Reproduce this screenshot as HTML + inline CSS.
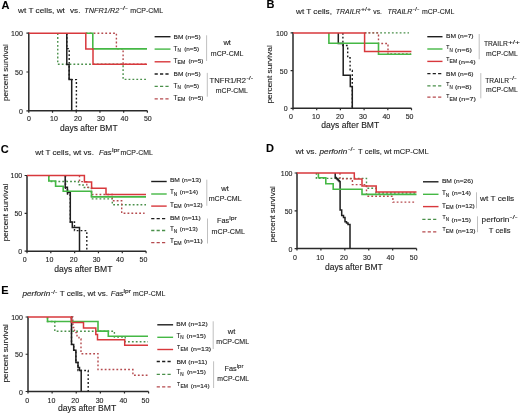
<!DOCTYPE html>
<html><head><meta charset="utf-8"><title>Survival curves</title>
<style>
html,body{margin:0;padding:0;background:#fff;width:520px;height:414px;overflow:hidden;}
svg{display:block;font-family:"Liberation Sans", sans-serif;will-change:transform;}
text{stroke:#2a2a2a;stroke-width:0.12px;}
</style></head><body>
<svg width="520" height="414" viewBox="0 0 520 414" font-family='"Liberation Sans", sans-serif' fill="#1a1a1a">
<rect width="520" height="414" fill="#fff"/>
<text x="1.6" y="8.8" font-size="11" font-weight="bold" fill="#000" >A</text>
<text x="18.1" y="12.7" font-size="7.9" textLength="46.8" lengthAdjust="spacingAndGlyphs" >wt T cells, wt</text>
<text x="70" y="12.7" font-size="7.9" textLength="10.4" lengthAdjust="spacingAndGlyphs" >vs.</text>
<text x="84.3" y="12.7" font-size="7.9" textLength="35.0" lengthAdjust="spacingAndGlyphs" font-style="italic" >TNFR1/R2</text>
<text x="119.9" y="9.8" font-size="6.0" textLength="8.0" lengthAdjust="spacingAndGlyphs" >-/-</text>
<text x="130.3" y="12.7" font-size="7.9" textLength="32.8" lengthAdjust="spacingAndGlyphs" >mCP-CML</text>
<path d="M28.8,32.6 V110.8 H147.4" stroke="#2a2a2a" stroke-width="1.5" fill="none"/>
<path d="M26.400000000000002,33.2 H28.8 M26.400000000000002,72.0 H28.8 M26.400000000000002,110.8 H28.8 M28.8,110.8 V112.8 M52.52,110.8 V112.8 M76.24000000000001,110.8 V112.8 M99.96,110.8 V112.8 M123.68,110.8 V112.8 M147.4,110.8 V112.8 " stroke="#2a2a2a" stroke-width="1.2" fill="none"/>
<text x="22.8" y="36.2" font-size="7" text-anchor="end" >100</text>
<text x="22.8" y="75.0" font-size="7" text-anchor="end" >50</text>
<text x="22.8" y="113.8" font-size="7" text-anchor="end" >0</text>
<text x="28.9" y="120.8" font-size="7" text-anchor="middle" >0</text>
<text x="54" y="120.8" font-size="7" text-anchor="middle" >10</text>
<text x="78" y="120.8" font-size="7" text-anchor="middle" >20</text>
<text x="101" y="120.8" font-size="7" text-anchor="middle" >30</text>
<text x="124.5" y="120.8" font-size="7" text-anchor="middle" >40</text>
<text x="147.8" y="120.8" font-size="7" text-anchor="middle" >50</text>
<text transform="translate(8.3,72.6) rotate(-90)" text-anchor="middle" font-size="7.9" textLength="56.8" lengthAdjust="spacingAndGlyphs">percent survival</text>
<text x="60.1" y="130.6" font-size="8.3" textLength="57.5" lengthAdjust="spacingAndGlyphs" >days after BMT</text>
<path d="M66.8,33.2 H66.8 V48.6 H69.2 V79.6 H76.4 V110.8" stroke="#1e1e1e" stroke-width="1.4" fill="none" stroke-dasharray="1.8 2.1"/>
<path d="M57.75,33.2 H57.75 V64.3 H123.1 V79.4 H146" stroke="#4a904a" stroke-width="1.4" fill="none" stroke-dasharray="1.8 2.1"/>
<path d="M85.8,33.2 H116.4 V48.7 H123.1 V64.2 H146" stroke="#b54a4e" stroke-width="1.4" fill="none" stroke-dasharray="1.8 2.1"/>
<path d="M66.8,33.2 H66.8 V64.4 H69.1 V79.6 H71.7 V110.8" stroke="#1e1e1e" stroke-width="1.5" fill="none"/>
<path d="M85.8,33.2 H92.8 V48.9 H147" stroke="#45b845" stroke-width="1.6" fill="none"/>
<path d="M28.8,33.2 H85.8 V48.9 H93 V64.3 H147" stroke="#d8383c" stroke-width="1.5" fill="none"/>
<path d="M154.6,36.7 H170.5" stroke="#1e1e1e" stroke-width="1.4" fill="none"/>
<path d="M154.6,49.1 H170.5" stroke="#45b845" stroke-width="1.4" fill="none"/>
<path d="M154.6,61.8 H170.5" stroke="#d8383c" stroke-width="1.4" fill="none"/>
<path d="M154.6,74.0 H169.5" stroke="#1e1e1e" stroke-width="1.3" fill="none" stroke-dasharray="3.2 2.2"/>
<path d="M154.6,86.3 H169.5" stroke="#4a904a" stroke-width="1.3" fill="none" stroke-dasharray="3.2 2.2"/>
<path d="M154.6,98.8 H169.5" stroke="#b54a4e" stroke-width="1.3" fill="none" stroke-dasharray="3.2 2.2"/>
<text x="173.6" y="38.6" font-size="6.1" textLength="27.1" lengthAdjust="spacingAndGlyphs" >BM (n=5)</text>
<text x="173.6" y="50.5" font-size="6.4" >T</text>
<text x="177.5" y="52.1" font-size="4.9" textLength="3.4" lengthAdjust="spacingAndGlyphs" >N</text>
<text x="184.2" y="50.5" font-size="6.1" textLength="15.0" lengthAdjust="spacingAndGlyphs" >(n=5)</text>
<text x="173.6" y="62.8" font-size="6.4" >T</text>
<text x="177.5" y="64.4" font-size="4.9" textLength="7.8" lengthAdjust="spacingAndGlyphs" >EM</text>
<text x="188.4" y="62.8" font-size="6.1" textLength="15.0" lengthAdjust="spacingAndGlyphs" >(n=5)</text>
<text x="173.6" y="76.4" font-size="6.1" textLength="27.1" lengthAdjust="spacingAndGlyphs" >BM (n=5)</text>
<text x="173.6" y="87.8" font-size="6.4" >T</text>
<text x="177.5" y="89.4" font-size="4.9" textLength="3.4" lengthAdjust="spacingAndGlyphs" >N</text>
<text x="184.2" y="87.8" font-size="6.1" textLength="15.0" lengthAdjust="spacingAndGlyphs" >(n=5)</text>
<text x="173.6" y="99.7" font-size="6.4" >T</text>
<text x="177.5" y="101.3" font-size="4.9" textLength="7.8" lengthAdjust="spacingAndGlyphs" >EM</text>
<text x="188.4" y="99.7" font-size="6.1" textLength="15.0" lengthAdjust="spacingAndGlyphs" >(n=5)</text>
<path d="M206.6,35.3 V61 M207.3,72.9 V96.7" stroke="#b0b0b0" stroke-width="0.8" fill="none"/>
<text x="227.2" y="45.4" font-size="7.6" text-anchor="middle" >wt</text>
<text x="210.8" y="55.8" font-size="7.6" textLength="32.7" lengthAdjust="spacingAndGlyphs" >mCP-CML</text>
<text x="209.6" y="82.8" font-size="7.6" textLength="36.4" lengthAdjust="spacingAndGlyphs" >TNFR1/R2</text>
<text x="246.4" y="79.8" font-size="6.2" textLength="6.8" lengthAdjust="spacingAndGlyphs" >-/-</text>
<text x="215.7" y="92.7" font-size="7.6" textLength="32.1" lengthAdjust="spacingAndGlyphs" >mCP-CML</text>
<text x="266.6" y="8.2" font-size="11" font-weight="bold" fill="#000" >B</text>
<text x="296" y="14.2" font-size="7.9" textLength="35.9" lengthAdjust="spacingAndGlyphs" >wt T cells,</text>
<text x="335.8" y="14.2" font-size="7.9" textLength="24.8" lengthAdjust="spacingAndGlyphs" font-style="italic" >TRAILR</text>
<text x="360.9" y="11.3" font-size="6.0" textLength="10.1" lengthAdjust="spacingAndGlyphs" >+/+</text>
<text x="373.3" y="14.2" font-size="7.9" textLength="8.6" lengthAdjust="spacingAndGlyphs" >vs.</text>
<text x="387.4" y="14.2" font-size="7.9" textLength="24.9" lengthAdjust="spacingAndGlyphs" font-style="italic" >TRAILR</text>
<text x="412.5" y="11.3" font-size="6.0" textLength="6.8" lengthAdjust="spacingAndGlyphs" >-/-</text>
<text x="422.1" y="14.2" font-size="7.9" textLength="32.3" lengthAdjust="spacingAndGlyphs" >mCP-CML</text>
<path d="M293,32.3 V108.3 H411.5" stroke="#2a2a2a" stroke-width="1.5" fill="none"/>
<path d="M290.6,32.9 H293 M290.6,70.6 H293 M290.6,108.3 H293 M293.0,108.3 V110.3 M316.7,108.3 V110.3 M340.4,108.3 V110.3 M364.1,108.3 V110.3 M387.8,108.3 V110.3 M411.5,108.3 V110.3 " stroke="#2a2a2a" stroke-width="1.2" fill="none"/>
<text x="287.6" y="35.9" font-size="7" text-anchor="end" >100</text>
<text x="287.6" y="73.6" font-size="7" text-anchor="end" >50</text>
<text x="287.6" y="111.3" font-size="7" text-anchor="end" >0</text>
<text x="290.9" y="118.9" font-size="7" text-anchor="middle" >0</text>
<text x="316" y="118.9" font-size="7" text-anchor="middle" >10</text>
<text x="340" y="118.9" font-size="7" text-anchor="middle" >20</text>
<text x="363" y="118.9" font-size="7" text-anchor="middle" >30</text>
<text x="386.3" y="118.9" font-size="7" text-anchor="middle" >40</text>
<text x="409.6" y="118.9" font-size="7" text-anchor="middle" >50</text>
<text transform="translate(272.4,74.4) rotate(-90)" text-anchor="middle" font-size="7.9" textLength="58.3" lengthAdjust="spacingAndGlyphs">percent survival</text>
<text x="321.3" y="128.2" font-size="8.3" textLength="57.9" lengthAdjust="spacingAndGlyphs" >days after BMT</text>
<path d="M342.9,32.9 H342.9 V45.5 H347.7 V57.8 H350.1 V70.5 H352.3 V108.3" stroke="#1e1e1e" stroke-width="1.4" fill="none" stroke-dasharray="1.8 2.1"/>
<path d="M364.6,32.9 H409" stroke="#4a904a" stroke-width="1.4" fill="none" stroke-dasharray="1.8 2.1"/>
<path d="M364.6,32.9 H378.5 V43.5 H388 V54 H411" stroke="#b54a4e" stroke-width="1.4" fill="none" stroke-dasharray="1.8 2.1"/>
<path d="M338.3,32.9 H338.3 V43.5 H343.2 V75.2 H350.3 V86.4 H352.3 V108.3" stroke="#1e1e1e" stroke-width="1.5" fill="none"/>
<path d="M328.9,32.9 H328.9 V43.3 H378.5 V54.2 H411.4" stroke="#45b845" stroke-width="1.6" fill="none"/>
<path d="M293,32.9 H364.6 V51.5 H411.4" stroke="#d8383c" stroke-width="1.5" fill="none"/>
<path d="M427.3,36.7 H442.5" stroke="#1e1e1e" stroke-width="1.4" fill="none"/>
<path d="M427.3,49.0 H442.5" stroke="#45b845" stroke-width="1.4" fill="none"/>
<path d="M427.3,61.4 H442.5" stroke="#d8383c" stroke-width="1.4" fill="none"/>
<path d="M427.3,73.7 H441.3" stroke="#1e1e1e" stroke-width="1.3" fill="none" stroke-dasharray="3.2 2.2"/>
<path d="M427.3,85.9 H441.3" stroke="#4a904a" stroke-width="1.3" fill="none" stroke-dasharray="3.2 2.2"/>
<path d="M427.3,97.1 H441.3" stroke="#b54a4e" stroke-width="1.3" fill="none" stroke-dasharray="3.2 2.2"/>
<text x="446" y="37.8" font-size="6.1" textLength="27.6" lengthAdjust="spacingAndGlyphs" >BM (n=7)</text>
<text x="446.3" y="49.4" font-size="5.1" >T</text>
<text x="449.6" y="51.9" font-size="4.9" textLength="3.3" lengthAdjust="spacingAndGlyphs" >N</text>
<text x="454.8" y="52.0" font-size="6.1" textLength="17.0" lengthAdjust="spacingAndGlyphs" >(n=6)</text>
<text x="446.3" y="60.9" font-size="5.1" >T</text>
<text x="449.6" y="63.4" font-size="4.9" textLength="7.6" lengthAdjust="spacingAndGlyphs" >EM</text>
<text x="458.6" y="63.5" font-size="6.1" textLength="17.0" lengthAdjust="spacingAndGlyphs" >(n=4)</text>
<text x="446" y="75.6" font-size="6.1" textLength="27.6" lengthAdjust="spacingAndGlyphs" >BM (n=6)</text>
<text x="446.3" y="86.3" font-size="5.1" >T</text>
<text x="449.6" y="88.8" font-size="4.9" textLength="3.3" lengthAdjust="spacingAndGlyphs" >N</text>
<text x="455.0" y="88.9" font-size="6.1" textLength="16.6" lengthAdjust="spacingAndGlyphs" >(n=8)</text>
<text x="446.3" y="98.2" font-size="5.1" >T</text>
<text x="449.6" y="100.7" font-size="4.9" textLength="7.6" lengthAdjust="spacingAndGlyphs" >EM</text>
<text x="458.8" y="100.8" font-size="6.1" textLength="17.0" lengthAdjust="spacingAndGlyphs" >(n=7)</text>
<path d="M479.2,34 V59.3 M480.8,73.1 V98.3" stroke="#b0b0b0" stroke-width="0.8" fill="none"/>
<text x="483.9" y="46.2" font-size="7.6" textLength="23.9" lengthAdjust="spacingAndGlyphs" >TRAILR</text>
<text x="507.9" y="43.6" font-size="6.2" textLength="12" lengthAdjust="spacingAndGlyphs" >+/+</text>
<text x="486" y="55.8" font-size="7.6" textLength="31.7" lengthAdjust="spacingAndGlyphs" >mCP-CML</text>
<text x="485.3" y="82.7" font-size="7.6" textLength="23.7" lengthAdjust="spacingAndGlyphs" >TRAILR</text>
<text x="509.3" y="79.8" font-size="6.2" textLength="7.4" lengthAdjust="spacingAndGlyphs" >-/-</text>
<text x="486" y="92.2" font-size="7.6" textLength="31.7" lengthAdjust="spacingAndGlyphs" >mCP-CML</text>
<text x="0.8" y="153.0" font-size="11" font-weight="bold" fill="#000" >C</text>
<text x="35.3" y="155.4" font-size="7.9" textLength="58.6" lengthAdjust="spacingAndGlyphs" >wt T cells, wt vs.</text>
<text x="99" y="155.4" font-size="7.9" textLength="12.6" lengthAdjust="spacingAndGlyphs" font-style="italic" >Fas</text>
<text x="111.9" y="152.1" font-size="6.2" textLength="7.7" lengthAdjust="spacingAndGlyphs" >lpr</text>
<text x="120.6" y="155.4" font-size="7.9" textLength="32.3" lengthAdjust="spacingAndGlyphs" >mCP-CML</text>
<path d="M27,174.9 V251.2 H146.1" stroke="#2a2a2a" stroke-width="1.5" fill="none"/>
<path d="M24.6,175.5 H27 M24.6,213.35 H27 M24.6,251.2 H27 M27.0,251.2 V253.2 M50.82,251.2 V253.2 M74.64,251.2 V253.2 M98.46,251.2 V253.2 M122.28,251.2 V253.2 M146.1,251.2 V253.2 " stroke="#2a2a2a" stroke-width="1.2" fill="none"/>
<text x="22.2" y="178.4" font-size="7" text-anchor="end" >100</text>
<text x="22.2" y="216.25" font-size="7" text-anchor="end" >50</text>
<text x="22.2" y="254.1" font-size="7" text-anchor="end" >0</text>
<text x="24.8" y="262.2" font-size="7" text-anchor="middle" >0</text>
<text x="49.5" y="262.2" font-size="7" text-anchor="middle" >10</text>
<text x="73.7" y="262.2" font-size="7" text-anchor="middle" >20</text>
<text x="96.6" y="262.2" font-size="7" text-anchor="middle" >30</text>
<text x="120" y="262.2" font-size="7" text-anchor="middle" >40</text>
<text x="143.4" y="262.2" font-size="7" text-anchor="middle" >50</text>
<text transform="translate(7.5,212.5) rotate(-90)" text-anchor="middle" font-size="7.9" textLength="57.6" lengthAdjust="spacingAndGlyphs">percent survival</text>
<text x="54.2" y="272.2" font-size="8.3" textLength="58.2" lengthAdjust="spacingAndGlyphs" >days after BMT</text>
<path d="M65.5,175.5 H65.5 V189 H67.5 V195 H70.3 V222 H74.5 V230.6 H86.8 V251.2" stroke="#1e1e1e" stroke-width="1.4" fill="none" stroke-dasharray="1.8 2.1"/>
<path d="M48.8,175.5 H48.8 V181.5 H78.5 V184.7 H83 V187.5 H91.5 V198.9 H112.3 V204.7 H146" stroke="#4a904a" stroke-width="1.4" fill="none" stroke-dasharray="1.8 2.1"/>
<path d="M79.5,175.5 H79.5 V181.6 H86.8 V187.4 H91.5 V194.5 H112.3 V200.7 H121.7 V213.3 H144.6" stroke="#b54a4e" stroke-width="1.4" fill="none" stroke-dasharray="1.8 2.1"/>
<path d="M65.2,175.5 H65.2 V187.2 H67.4 V192.6 H70.3 V222 H72.3 V227.4 H79.5 V251.2" stroke="#1e1e1e" stroke-width="1.5" fill="none"/>
<path d="M48.8,175.5 H48.8 V181 H55.6 V186.3 H63.2 V191.3 H91.5 V196.9 H146" stroke="#45b845" stroke-width="1.6" fill="none"/>
<path d="M27,175.5 H84.4 V181.9 H91.6 V188.3 H106 V194.5 H146" stroke="#d8383c" stroke-width="1.5" fill="none"/>
<path d="M151.2,181.5 H166.7" stroke="#1e1e1e" stroke-width="1.4" fill="none"/>
<path d="M151.2,194.0 H166.7" stroke="#45b845" stroke-width="1.4" fill="none"/>
<path d="M151.2,206.1 H166.7" stroke="#d8383c" stroke-width="1.4" fill="none"/>
<path d="M151.2,218.6 H165.5" stroke="#1e1e1e" stroke-width="1.3" fill="none" stroke-dasharray="3.2 2.2"/>
<path d="M151.2,230.5 H165.5" stroke="#4a904a" stroke-width="1.3" fill="none" stroke-dasharray="3.2 2.2"/>
<path d="M151.2,242.6 H165.5" stroke="#b54a4e" stroke-width="1.3" fill="none" stroke-dasharray="3.2 2.2"/>
<text x="169.9" y="182.1" font-size="6.1" textLength="31.3" lengthAdjust="spacingAndGlyphs" >BM (n=13)</text>
<text x="169.9" y="194.4" font-size="6.4" >T</text>
<text x="173.8" y="196.0" font-size="4.9" textLength="3.4" lengthAdjust="spacingAndGlyphs" >N</text>
<text x="179.8" y="194.4" font-size="6.1" textLength="18.2" lengthAdjust="spacingAndGlyphs" >(n=14)</text>
<text x="169.9" y="206.6" font-size="6.4" >T</text>
<text x="173.8" y="208.2" font-size="4.9" textLength="7.8" lengthAdjust="spacingAndGlyphs" >EM</text>
<text x="183.9" y="206.6" font-size="6.1" textLength="18.8" lengthAdjust="spacingAndGlyphs" >(n=12)</text>
<text x="169.9" y="219.8" font-size="6.1" textLength="30.9" lengthAdjust="spacingAndGlyphs" >BM (n=11)</text>
<text x="169.9" y="231.3" font-size="6.4" >T</text>
<text x="173.8" y="232.9" font-size="4.9" textLength="3.4" lengthAdjust="spacingAndGlyphs" >N</text>
<text x="179.8" y="231.3" font-size="6.1" textLength="17.9" lengthAdjust="spacingAndGlyphs" >(n=13)</text>
<text x="169.9" y="243.2" font-size="6.4" >T</text>
<text x="173.8" y="244.8" font-size="4.9" textLength="7.8" lengthAdjust="spacingAndGlyphs" >EM</text>
<text x="183.9" y="243.2" font-size="6.1" textLength="18.8" lengthAdjust="spacingAndGlyphs" >(n=11)</text>
<path d="M206.8,179.7 V205.8 M207.5,218.5 V243.5" stroke="#b0b0b0" stroke-width="0.8" fill="none"/>
<text x="225.0" y="191.3" font-size="7.6" text-anchor="middle" >wt</text>
<text x="208.7" y="201" font-size="7.6" textLength="32.9" lengthAdjust="spacingAndGlyphs" >mCP-CML</text>
<text x="217" y="223.2" font-size="7.6" textLength="12.2" lengthAdjust="spacingAndGlyphs" >Fas</text>
<text x="229.3" y="220.0" font-size="6.2" textLength="7.5" lengthAdjust="spacingAndGlyphs" >lpr</text>
<text x="211.6" y="233.8" font-size="7.6" textLength="33.3" lengthAdjust="spacingAndGlyphs" >mCP-CML</text>
<text x="266.0" y="152.1" font-size="11" font-weight="bold" fill="#000" >D</text>
<text x="295.4" y="154.3" font-size="7.9" textLength="21.5" lengthAdjust="spacingAndGlyphs" >wt vs.</text>
<text x="319.6" y="154.3" font-size="7.9" textLength="27.6" lengthAdjust="spacingAndGlyphs" font-style="italic" >perforin</text>
<text x="347.9" y="151.4" font-size="6.0" textLength="7.1" lengthAdjust="spacingAndGlyphs" >-/-</text>
<text x="358.1" y="154.3" font-size="7.9" textLength="70.7" lengthAdjust="spacingAndGlyphs" >T cells, wt mCP-CML</text>
<path d="M297,172.4 V248.6 H416.6" stroke="#2a2a2a" stroke-width="1.5" fill="none"/>
<path d="M294.6,173 H297 M294.6,210.8 H297 M294.6,248.6 H297 M297.0,248.6 V250.6 M320.92,248.6 V250.6 M344.84000000000003,248.6 V250.6 M368.76,248.6 V250.6 M392.68,248.6 V250.6 M416.6,248.6 V250.6 " stroke="#2a2a2a" stroke-width="1.2" fill="none"/>
<text x="292.5" y="176.0" font-size="7" text-anchor="end" >100</text>
<text x="292.5" y="213.8" font-size="7" text-anchor="end" >50</text>
<text x="292.5" y="251.6" font-size="7" text-anchor="end" >0</text>
<text x="294.9" y="260.0" font-size="7" text-anchor="middle" >0</text>
<text x="320.2" y="260.0" font-size="7" text-anchor="middle" >10</text>
<text x="344" y="260.0" font-size="7" text-anchor="middle" >20</text>
<text x="367" y="260.0" font-size="7" text-anchor="middle" >30</text>
<text x="390.4" y="260.0" font-size="7" text-anchor="middle" >40</text>
<text x="413.7" y="260.0" font-size="7" text-anchor="middle" >50</text>
<text transform="translate(275.0,214.2) rotate(-90)" text-anchor="middle" font-size="7.9" textLength="56.2" lengthAdjust="spacingAndGlyphs">percent survival</text>
<text x="325" y="269.7" font-size="8.3" textLength="57.7" lengthAdjust="spacingAndGlyphs" >days after BMT</text>
<path d="M316.4,173 H316.4 V178.4 H366.5 V188.3 H376 V193 H416.5" stroke="#4a904a" stroke-width="1.4" fill="none" stroke-dasharray="1.8 2.1"/>
<path d="M340.0,173 H340 V178.8 H352.4 V184.6 H366.5 V196.3 H392.9 V202.1 H415.4" stroke="#b54a4e" stroke-width="1.4" fill="none" stroke-dasharray="1.8 2.1"/>
<path d="M335.2,173 H335.2 V177.4 H336.2 V178.4 H337.2 V179.4 H338.2 V180.4 H339.2 V181.4 H340.1 V210.1 H341.7 V215.5 H343.5 V217.5 H345 V221.7 H346.5 V223 H348 V224.5 H350 V248.6" stroke="#1e1e1e" stroke-width="1.5" fill="none"/>
<path d="M318.4,173 H318.4 V177.8 H325.8 V183.8 H333.2 V189.2 H362 V194.4 H416.5" stroke="#45b845" stroke-width="1.6" fill="none"/>
<path d="M297,173 H354.3 V179.1 H362 V185.9 H376.2 V192.1 H416.5" stroke="#d8383c" stroke-width="1.5" fill="none"/>
<path d="M423.0,181.8 H438.5" stroke="#1e1e1e" stroke-width="1.4" fill="none"/>
<path d="M423.0,194.3 H438.5" stroke="#45b845" stroke-width="1.4" fill="none"/>
<path d="M423.0,206.6 H438.5" stroke="#d8383c" stroke-width="1.4" fill="none"/>
<path d="M422.3,219.4 H437.3" stroke="#4a904a" stroke-width="1.3" fill="none" stroke-dasharray="3.2 2.2"/>
<path d="M422.3,231.8 H437.3" stroke="#b54a4e" stroke-width="1.3" fill="none" stroke-dasharray="3.2 2.2"/>
<text x="441.9" y="183.3" font-size="6.1" textLength="31.3" lengthAdjust="spacingAndGlyphs" >BM (n=26)</text>
<text x="441.9" y="195.2" font-size="6.4" >T</text>
<text x="445.8" y="196.8" font-size="4.9" textLength="3.4" lengthAdjust="spacingAndGlyphs" >N</text>
<text x="451.8" y="195.2" font-size="6.1" textLength="19.2" lengthAdjust="spacingAndGlyphs" >(n=14)</text>
<text x="441.9" y="207.6" font-size="6.4" >T</text>
<text x="445.8" y="209.2" font-size="4.9" textLength="7.8" lengthAdjust="spacingAndGlyphs" >EM</text>
<text x="455.5" y="207.6" font-size="6.1" textLength="19.3" lengthAdjust="spacingAndGlyphs" >(n=12)</text>
<text x="442.5" y="218.9" font-size="5.1" >T</text>
<text x="445.8" y="221.4" font-size="4.9" textLength="3.3" lengthAdjust="spacingAndGlyphs" >N</text>
<text x="451.6" y="221.5" font-size="6.1" textLength="19.4" lengthAdjust="spacingAndGlyphs" >(n=15)</text>
<text x="442.5" y="230.8" font-size="5.1" >T</text>
<text x="445.8" y="233.3" font-size="4.9" textLength="7.6" lengthAdjust="spacingAndGlyphs" >EM</text>
<text x="455.8" y="233.4" font-size="6.1" textLength="19.6" lengthAdjust="spacingAndGlyphs" >(n=13)</text>
<path d="M476.5,192.3 V208.3 M477.5,216.3 V232.2" stroke="#b0b0b0" stroke-width="0.8" fill="none"/>
<text x="480.1" y="200.8" font-size="7.6" textLength="34.1" lengthAdjust="spacingAndGlyphs" >wt T cells</text>
<text x="481.6" y="222.4" font-size="7.6" textLength="27.8" lengthAdjust="spacingAndGlyphs" >perforin</text>
<text x="509.6" y="219.3" font-size="6.2" textLength="8.0" lengthAdjust="spacingAndGlyphs" >-/-</text>
<text x="488.8" y="233.3" font-size="7.6" textLength="21.8" lengthAdjust="spacingAndGlyphs" >T cells</text>
<text x="1.2" y="293.6" font-size="11" font-weight="bold" fill="#000" >E</text>
<text x="22.5" y="296" font-size="7.9" textLength="27.7" lengthAdjust="spacingAndGlyphs" font-style="italic" >perforin</text>
<text x="50.7" y="293.9" font-size="6.0" textLength="6.6" lengthAdjust="spacingAndGlyphs" >-/-</text>
<text x="59.7" y="296" font-size="7.9" textLength="48.4" lengthAdjust="spacingAndGlyphs" >T cells, wt vs.</text>
<text x="110.8" y="296" font-size="7.9" textLength="12.8" lengthAdjust="spacingAndGlyphs" font-style="italic" >Fas</text>
<text x="123.6" y="292.7" font-size="6.2" textLength="7.4" lengthAdjust="spacingAndGlyphs" >lpr</text>
<text x="133" y="296" font-size="7.9" textLength="32.3" lengthAdjust="spacingAndGlyphs" >mCP-CML</text>
<path d="M28,316.4 V391.5 H148.6" stroke="#2a2a2a" stroke-width="1.5" fill="none"/>
<path d="M25.6,317 H28 M25.6,354.25 H28 M25.6,391.5 H28 M28.0,391.5 V393.5 M52.12,391.5 V393.5 M76.24,391.5 V393.5 M100.35999999999999,391.5 V393.5 M124.47999999999999,391.5 V393.5 M148.6,391.5 V393.5 " stroke="#2a2a2a" stroke-width="1.2" fill="none"/>
<text x="22.9" y="320.0" font-size="7" text-anchor="end" >100</text>
<text x="22.9" y="357.25" font-size="7" text-anchor="end" >50</text>
<text x="22.9" y="394.5" font-size="7" text-anchor="end" >0</text>
<text x="27.1" y="402.9" font-size="7" text-anchor="middle" >0</text>
<text x="51.5" y="402.9" font-size="7" text-anchor="middle" >10</text>
<text x="75.2" y="402.9" font-size="7" text-anchor="middle" >20</text>
<text x="99.6" y="402.9" font-size="7" text-anchor="middle" >30</text>
<text x="123.3" y="402.9" font-size="7" text-anchor="middle" >40</text>
<text x="145.4" y="402.9" font-size="7" text-anchor="middle" >50</text>
<text transform="translate(8.3,353.3) rotate(-90)" text-anchor="middle" font-size="7.9" textLength="58.5" lengthAdjust="spacingAndGlyphs">percent survival</text>
<text x="57.9" y="411.0" font-size="8.3" textLength="58.3" lengthAdjust="spacingAndGlyphs" >days after BMT</text>
<path d="M71.4,317 H71.5 V344.4 H73.7 V350.2 H75.9 V362.5 H78 V370.5 H88.2 V391.5" stroke="#1e1e1e" stroke-width="1.4" fill="none" stroke-dasharray="1.8 2.1"/>
<path d="M47.5,317 H47.5 V321.5 H54.8 V331.2 H114.4 V337 H125.2 V341.8 H148" stroke="#4a904a" stroke-width="1.4" fill="none" stroke-dasharray="1.8 2.1"/>
<path d="M71.4,317 H72.9 V327.5 H74.5 V332.6 H77 V336.7 H79 V339 H81 V353.7 H98 V369.5 H132.9 V375.3 H148" stroke="#b54a4e" stroke-width="1.4" fill="none" stroke-dasharray="1.8 2.1"/>
<path d="M71.4,317 H71.5 V344.4 H73.7 V350.2 H75.9 V362.5 H78 V367.6 H79.5 V370.5 H81.2 V391.5" stroke="#1e1e1e" stroke-width="1.5" fill="none"/>
<path d="M47.5,317 H47.5 V321.5 H98 V331.1 H108.3 V336.3 H148" stroke="#45b845" stroke-width="1.6" fill="none"/>
<path d="M28,317 H71.4 V322.6 H83.5 V327.9 H95.8 V334.4 H97.5 V339.8 H124.7 V345.3 H148" stroke="#d8383c" stroke-width="1.5" fill="none"/>
<path d="M157.3,324.8 H173.1" stroke="#1e1e1e" stroke-width="1.4" fill="none"/>
<path d="M157.3,337.3 H173.1" stroke="#45b845" stroke-width="1.4" fill="none"/>
<path d="M157.3,349.5 H173.1" stroke="#d8383c" stroke-width="1.4" fill="none"/>
<path d="M156.7,361.5 H171.5" stroke="#1e1e1e" stroke-width="1.3" fill="none" stroke-dasharray="3.2 2.2"/>
<path d="M156.7,374.3 H171.5" stroke="#4a904a" stroke-width="1.3" fill="none" stroke-dasharray="3.2 2.2"/>
<path d="M156.7,386.8 H171.5" stroke="#b54a4e" stroke-width="1.3" fill="none" stroke-dasharray="3.2 2.2"/>
<text x="176.3" y="325.6" font-size="6.1" textLength="31.5" lengthAdjust="spacingAndGlyphs" >BM (n=12)</text>
<text x="176.4" y="337.5" font-size="6.4" >T</text>
<text x="180.3" y="339.1" font-size="4.9" textLength="3.4" lengthAdjust="spacingAndGlyphs" >N</text>
<text x="186.6" y="337.5" font-size="6.1" textLength="19.3" lengthAdjust="spacingAndGlyphs" >(n=15)</text>
<text x="177.10000000000002" y="348.5" font-size="5.1" >T</text>
<text x="180.4" y="351.0" font-size="4.9" textLength="7.6" lengthAdjust="spacingAndGlyphs" >EM</text>
<text x="190.8" y="351.1" font-size="6.1" textLength="20.4" lengthAdjust="spacingAndGlyphs" >(n=13)</text>
<text x="176.4" y="363.6" font-size="6.1" textLength="30.8" lengthAdjust="spacingAndGlyphs" >BM (n=11)</text>
<text x="176.4" y="374.3" font-size="6.4" >T</text>
<text x="180.3" y="375.9" font-size="4.9" textLength="3.4" lengthAdjust="spacingAndGlyphs" >N</text>
<text x="186.9" y="374.3" font-size="6.1" textLength="19.0" lengthAdjust="spacingAndGlyphs" >(n=15)</text>
<text x="177.10000000000002" y="385.6" font-size="5.1" >T</text>
<text x="180.4" y="388.1" font-size="4.9" textLength="7.6" lengthAdjust="spacingAndGlyphs" >EM</text>
<text x="190.8" y="388.2" font-size="6.1" textLength="18.8" lengthAdjust="spacingAndGlyphs" >(n=14)</text>
<path d="M213.2,321.3 V349 M213.6,361.3 V388" stroke="#b0b0b0" stroke-width="0.8" fill="none"/>
<text x="231.5" y="333.6" font-size="7.6" text-anchor="middle" >wt</text>
<text x="216.3" y="343.9" font-size="7.6" textLength="32.8" lengthAdjust="spacingAndGlyphs" >mCP-CML</text>
<text x="224.5" y="371.2" font-size="7.6" textLength="12.2" lengthAdjust="spacingAndGlyphs" >Fas</text>
<text x="236.8" y="368.0" font-size="6.2" textLength="6.6" lengthAdjust="spacingAndGlyphs" >lpr</text>
<text x="217.3" y="380.8" font-size="7.6" textLength="31.8" lengthAdjust="spacingAndGlyphs" >mCP-CML</text>
</svg>
</body></html>
